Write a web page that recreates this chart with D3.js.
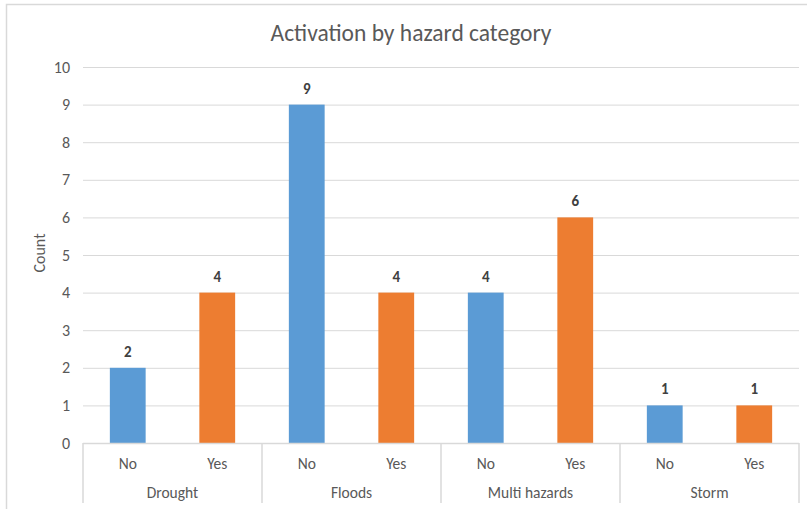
<!DOCTYPE html>
<html>
<head>
<meta charset="utf-8">
<script src="https://cdn.jsdelivr.net/npm/d3@7"></script>
<style>
  html, body { margin: 0; padding: 0; background: #fff; }
  svg { display: block; }
  text { font-family: Carlito, Calibri, Lato, "Open Sans", sans-serif; }
</style>
</head>
<body>
<svg id="chart" width="807" height="509"></svg>
<script>
// Hazard categories, the activation answers within each, and the counts
const hazards = ["Drought", "Floods", "Multi hazards", "Storm"];
const answers = ["No", "Yes"];
const countsNo  = [2, 9, 4, 1];
const countsYes = [4, 4, 6, 1];
const yTicks = [0, 1, 2, 3, 4, 5, 6, 7, 8, 9, 10];

const colors = { No: "#5B9BD5", Yes: "#ED7D31" };

const rows = [];
hazards.forEach((h, i) => {
  rows.push({ hazard: h, answer: "No",  value: countsNo[i] });
  rows.push({ hazard: h, answer: "Yes", value: countsYes[i] });
});

const svg = d3.select("#chart");
const W = 807, H = 509;
const m = { left: 83, right: 8, top: 67, bottom: 66 };
const plotW = W - m.left - m.right;
const plotH = H - m.top - m.bottom;

// Chart frame (left and top edges visible)
svg.append("path")
  .attr("d", `M6.5,${H} V4.5 H${W}`)
  .attr("fill", "none").attr("stroke", "#d9d9d9").attr("stroke-width", 1.5);

svg.append("text")
  .attr("x", 411).attr("y", 41)
  .attr("text-anchor", "middle")
  .attr("font-size", 23.5).attr("fill", "#595959")
  .text("Activation by hazard category");

const g = svg.append("g").attr("transform", `translate(${m.left},${m.top})`);

const x0 = d3.scaleBand().domain(hazards).range([0, plotW]);
const x1 = d3.scaleBand().domain(answers).range([0, x0.bandwidth()]).paddingInner(0.6).paddingOuter(0.3);
const y = d3.scaleLinear().domain([0, 10]).range([plotH, 0]);

// Gridlines and y tick labels
const yAxis = d3.axisLeft(y).tickValues(yTicks).tickSize(-plotW).tickPadding(13).tickFormat(d3.format("d"));
const ya = g.append("g").call(yAxis);
ya.select(".domain").remove();
ya.selectAll(".tick line").attr("stroke", "#d9d9d9").attr("stroke-width", 1);
ya.selectAll(".tick text").attr("fill", "#595959").attr("font-size", 16)
  .attr("font-family", "Carlito, Calibri, Lato, sans-serif");

// Bars
const groups = g.selectAll(".grp").data(hazards).enter().append("g")
  .attr("transform", d => `translate(${x0(d)},0)`);

groups.selectAll("rect")
  .data(h => rows.filter(r => r.hazard === h))
  .enter().append("rect")
  .attr("x", d => x1(d.answer))
  .attr("width", x1.bandwidth())
  .attr("y", d => y(d.value))
  .attr("height", d => plotH - y(d.value))
  .attr("fill", d => colors[d.answer]);

groups.selectAll(".lbl")
  .data(h => rows.filter(r => r.hazard === h))
  .enter().append("text")
  .attr("x", d => x1(d.answer) + x1.bandwidth() / 2)
  .attr("y", d => y(d.value) - 11)
  .attr("text-anchor", "middle")
  .attr("font-size", 15).attr("font-weight", 600).attr("fill", "#404040")
  .text(d => d.value);

// Multi-level category axis
const axisColor = "#d9d9d9";
g.append("line").attr("x1", 0).attr("x2", plotW).attr("y1", plotH + 0.5).attr("y2", plotH + 0.5)
  .attr("stroke", axisColor).attr("stroke-width", 1.5);

const bounds = hazards.map(h => x0(h)).concat([plotW]);
g.selectAll(".div").data(bounds).enter().append("line")
  .attr("x1", d => d).attr("x2", d => d)
  .attr("y1", plotH).attr("y2", plotH + 60)
  .attr("stroke", axisColor).attr("stroke-width", 1.5);

groups.selectAll(".sub")
  .data(answers).enter().append("text")
  .attr("x", a => x1(a) + x1.bandwidth() / 2)
  .attr("y", plotH + 26)
  .attr("text-anchor", "middle")
  .attr("font-size", 15.5).attr("fill", "#595959")
  .text(a => a);

groups.append("text")
  .attr("x", x0.bandwidth() / 2)
  .attr("y", plotH + 55)
  .attr("text-anchor", "middle")
  .attr("font-size", 15.5).attr("fill", "#595959")
  .text(h => h);

// Y axis title
svg.append("text")
  .attr("transform", `translate(45,${m.top + plotH / 2 - 2}) rotate(-90)`)
  .attr("text-anchor", "middle")
  .attr("font-size", 16).attr("fill", "#595959")
  .text("Count");
</script>
</body>
</html>
